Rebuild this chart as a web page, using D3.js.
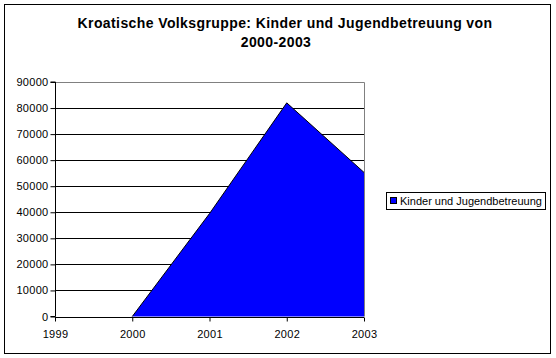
<!DOCTYPE html>
<html><head><meta charset="utf-8">
<script src="https://cdn.jsdelivr.net/npm/d3@7"></script>
<style>body{margin:0;background:#fff}svg{display:block}text{font-family:"Liberation Sans",Arial,sans-serif}</style>
</head><body>
<svg id="c" width="556" height="358"></svg>
<script>
const categories = ["1999","2000","2001","2002","2003"];
const values = [0, 0, 39500, 82000, 55300];
const yTicks = [0,10000,20000,30000,40000,50000,60000,70000,80000,90000];
const seriesName = "Kinder und Jugendbetreuung";
const titleLines = ["Kroatische Volksgruppe: Kinder und Jugendbetreuung von","2000-2003"];

const svg = d3.select("#c");
svg.append("rect").attr("x",4.5).attr("y",4.5).attr("width",546).attr("height",349)
  .attr("fill","#fff").attr("stroke","#000").attr("stroke-width",1);

const L=55, R=364, T=82, B=316.5;
const x = d3.scalePoint().domain(categories).range([L,R]);
const y = d3.scaleLinear().domain([0,90000]).range([B,T]);

// gridlines
svg.append("g").selectAll("line").data(yTicks.filter(t=>t>0 && t<90000)).join("line")
  .attr("x1",L).attr("x2",R).attr("y1",d=>Math.round(y(d))+0.5).attr("y2",d=>Math.round(y(d))+0.5)
  .attr("stroke","#000").attr("stroke-width",1);
// plot border top/right gray
svg.append("path").attr("d",`M${L},${Math.round(T)+0.5}H${R+0.5}V${B}`).attr("fill","none").attr("stroke","#808080");

// area
const pts = categories.map((c,i)=>({c,v:values[i]}));
const area = d3.area().x(d=>x(d.c)).y0(y(0)).y1(d=>y(d.v));
const line = d3.line().x(d=>x(d.c)).y(d=>y(d.v));
svg.append("path").datum(pts).attr("d",area).attr("fill","#0000ff");
svg.append("path").datum(pts.slice(1)).attr("d",line).attr("fill","none").attr("stroke","#000").attr("stroke-width",1);

// axes
const yAxis = d3.axisLeft(y).tickValues(yTicks).tickSize(5).tickPadding(2).tickFormat(d3.format("d"));
const gy = svg.append("g").attr("transform",`translate(${L+0.5},0)`).call(yAxis);
const xAxis = d3.axisBottom(x).tickSize(4).tickPadding(9);
const gx = svg.append("g").attr("transform",`translate(0,${Math.round(B)+0.5})`).call(xAxis);
[gy,gx].forEach(g=>{
  g.select(".domain").attr("stroke","#000");
  g.selectAll(".tick line").attr("stroke","#000");
  g.selectAll("text").attr("font-size","11px").attr("fill","#000").attr("font-family","'Liberation Sans',Arial,sans-serif").attr("letter-spacing","0.3px");
});
gy.select(".domain").attr("d",`M-5,${T}H0V${B}H-5`);
gx.select(".domain").attr("d",`M${L},0H${R}`);

// title
svg.append("text").attr("x",285).attr("y",28).attr("text-anchor","middle")
  .attr("font-size","14px").attr("letter-spacing","0.4px").attr("font-weight","bold").text(titleLines[0]);
svg.append("text").attr("x",276).attr("y",47).attr("text-anchor","middle")
  .attr("font-size","14px").attr("letter-spacing","0.4px").attr("font-weight","bold").text(titleLines[1]);

// legend
const lg = svg.append("g");
lg.append("rect").attr("x",386.5).attr("y",192.5).attr("width",159).attr("height",17).attr("fill","#fff").attr("stroke","#000");
lg.append("rect").attr("x",390.5).attr("y",197.5).attr("width",6).attr("height",6).attr("fill","#0000ff").attr("stroke","#000");
lg.append("text").attr("x",400).attr("y",205).attr("font-size","11px").attr("fill","#000").text(seriesName);
</script>
</body></html>
